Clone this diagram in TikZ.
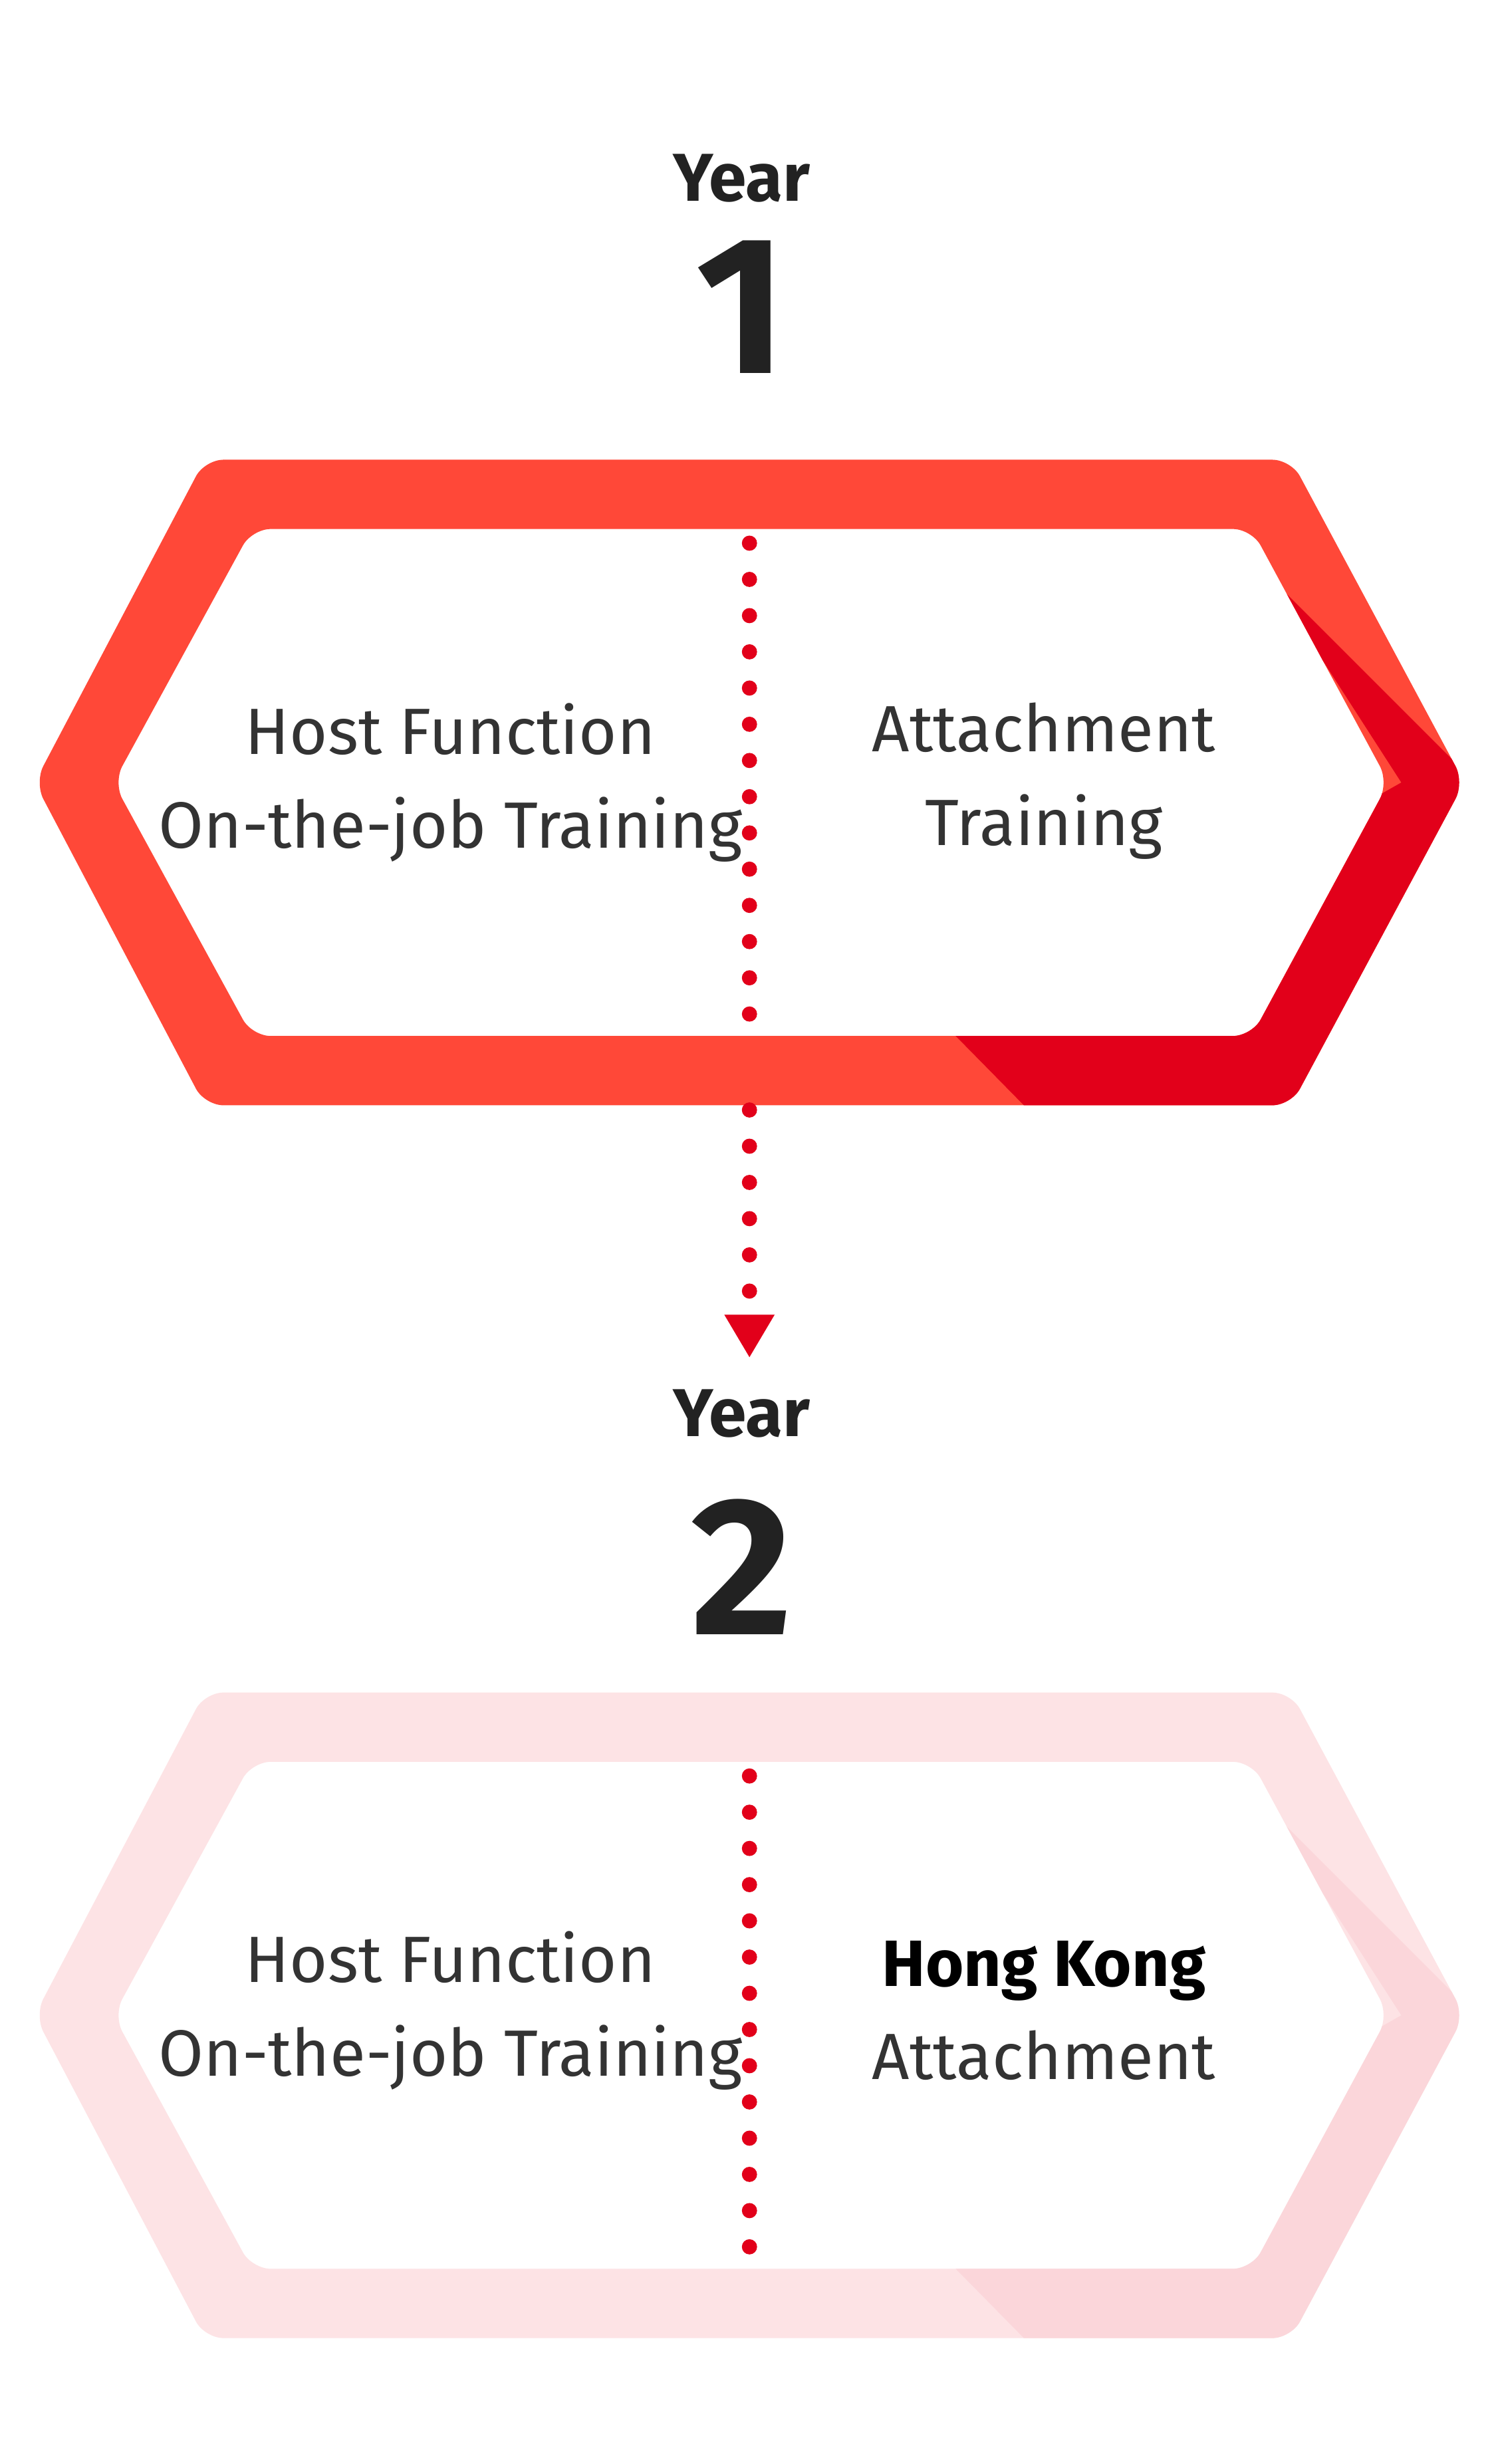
\documentclass[tikz,border=0pt]{standalone}
\usepackage{fontspec}
\setmainfont{Fira Sans}
\definecolor{hexred}{HTML}{FF4838}
\definecolor{hexdark}{HTML}{E2001A}
\definecolor{hexpale}{HTML}{FDE3E5}
\definecolor{hexpaledark}{HTML}{FBD6DA}
\definecolor{labelgray}{HTML}{333333}
\definecolor{yeargray}{HTML}{222222}
\begin{document}
\begin{tikzpicture}[
  x=0.02368cm, y=-0.02368cm,
  year/.style={font=\fontsize{29}{34}\selectfont\bfseries, text=yeargray},
  num/.style={font=\fontsize{84}{90}\selectfont\bfseries, text=yeargray},
  label/.style={font=\fontsize{28}{40}\selectfont, text=labelgray, align=center},
  dotline/.style={hexdark, line width=6.5pt, line cap=round, dash pattern=on 0pt off 15.5pt}
]
\useasboundingbox[fill=white] (0,0) rectangle (950,1565);

% hexagon frames
\foreach \dy/\ca/\cb in {0/hexred/hexdark, 783/hexpale/hexpaledark}{
  \fill[\ca, even odd rule, rounded corners=8]
    (130,292+\dy) -- (820,292+\dy) -- (930,497+\dy) -- (820,702+\dy) -- (130,702+\dy) -- (22,497+\dy) -- cycle
    (160,336+\dy) -- (795,336+\dy) -- (882,497+\dy) -- (795,658+\dy) -- (160,658+\dy) -- (72,497+\dy) -- cycle;
  \begin{scope}[even odd rule, rounded corners=8]
    \clip
      (130,292+\dy) -- (820,292+\dy) -- (930,497+\dy) -- (820,702+\dy) -- (130,702+\dy) -- (22,497+\dy) -- cycle
      (160,336+\dy) -- (795,336+\dy) -- (882,497+\dy) -- (795,658+\dy) -- (160,658+\dy) -- (72,497+\dy) -- cycle;
    \fill[\cb, sharp corners] (805,365+\dy) -- (945,505+\dy) -- (945,720+\dy) -- (668,720+\dy) -- (607,658+\dy) -- (890,497+\dy) -- cycle;
  \end{scope}
}

% years
\node[year] (year1) at (471,113) {Year};
\node[num] (num1) at (471,195) {1};
\node[year] (year2) at (471,898) {Year};
\node[num] (num2) at (471,995) {2};

% labels
\node[label] (host1) at (286,497) {Host Function\\On-the-job Training};
\node[label] (attach1) at (663,496) {Attachment\\Training};
\node[label] (host2) at (286,1277) {Host Function\\On-the-job Training};
\node[label] (attach2) at (663,1277) {\textcolor{black}{\bfseries Hong Kong}\\Attachment};

% dotted dividers and arrow
\coordinate (div1top) at (476,345);
\coordinate (div1bot) at (476,653);
\coordinate (linktop) at (476,705);
\coordinate (linkbot) at (476,825);
\coordinate (div2top) at (476,1128);
\coordinate (div2bot) at (476,1436);
\draw[dotline] (div1top) -- (div1bot);
\draw[dotline] (linktop) -- (linkbot);
\draw[dotline] (div2top) -- (div2bot);
\fill[hexdark] (460,835) -- (492,835) -- (476,862) -- cycle;
\end{tikzpicture}
\end{document}
